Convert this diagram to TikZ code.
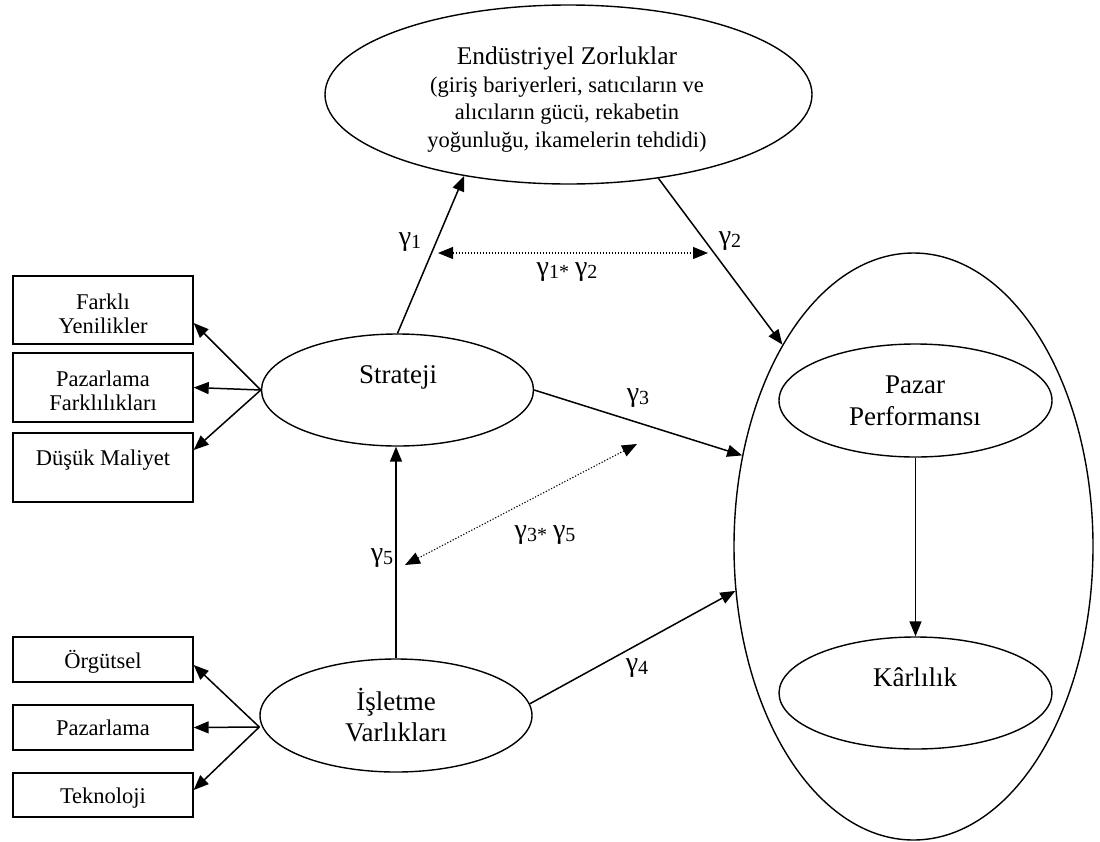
\documentclass[tikz,border=0pt]{standalone}
\usepackage{fontspec}
\setmainfont{Liberation Serif}
\usetikzlibrary{shapes.geometric,arrows.meta,calc}
\newcommand\boxfont{\fontsize{22.5}{24}\selectfont}
\newcommand\ellfont{\fontsize{27}{31}\selectfont}
\newcommand\gam[1]{{\fontsize{28}{28}\selectfont γ}\raisebox{-3.5pt}{\fontsize{20}{20}\selectfont #1}}
\begin{document}
\begin{tikzpicture}[x=1pt,y=-1pt,line width=1.5pt,
  ell/.style={draw,ellipse,inner sep=0pt,line width=1.4pt},
  boxnode/.style={draw,rectangle,inner sep=0pt,minimum width=180pt,align=center,font=\boxfont,line width=1.4pt},
  txt/.style={inner sep=0pt,align=center,anchor=base},
  lbl/.style={inner sep=0pt,align=center},
  arr/.style={-{Triangle[length=15pt,width=12pt]}},
  dotarr/.style={line width=1.1pt,dash pattern=on 1.2pt off 1.8pt,{Triangle[length=15pt,width=12pt]}-{Triangle[length=15pt,width=12pt]}}]
\useasboundingbox (0,0) rectangle (1100,841);
\fill[white] (0,0) rectangle (1100,841);

% ellipses
\node[ell,minimum width=487pt,minimum height=179pt] (E) at (568.5,94.5) {};
\node[ell,minimum width=272pt,minimum height=112pt] (S) at (397.5,390) {};
\node[ell,minimum width=272pt,minimum height=113pt] (I) at (396,715.5) {};
\node[ell,minimum width=359pt,minimum height=587pt] (B) at (913.5,546.5) {};
\node[ell,minimum width=273pt,minimum height=113pt] (P) at (915.5,400.5) {};
\node[ell,minimum width=273pt,minimum height=112pt] (K) at (915.5,693) {};

% ellipse texts (base = baseline of last line)
\node[txt,font=\fontsize{22.5}{27.5}\selectfont] (Et) at (567,147)
  {{\fontsize{25.5}{27}\selectfont Endüstriyel Zorluklar}\\(giriş bariyerleri, satıcıların ve\\alıcıların gücü, rekabetin\\yoğunluğu, ikamelerin tehdidi)};
\node[txt,font=\ellfont] (St) at (398,383) {Strateji};
\node[txt,font=\ellfont] (It) at (396,741) {İşletme\\Varlıkları};
\node[txt,font=\fontsize{27}{32}\selectfont] (Pt) at (915,425) {Pazar\\Performansı};
\node[txt,font=\ellfont] (Kt) at (915,686) {Kârlılık};

% boxes
\node[boxnode,text height=57pt,text depth=11pt] (b1) at (103,310) {Farklı\\Yenilikler};
\node[boxnode,text height=57pt,text depth=12pt] (b2) at (103,387.5) {Pazarlama\\Farklılıkları};
\node[boxnode,text height=32pt,text depth=37pt] (b3) at (103,467.5) {Düşük Maliyet};
\node[boxnode,text height=31pt,text depth=14pt] (c1) at (103,659.5) {Örgütsel};
\node[boxnode,text height=30pt,text depth=15pt] (c2) at (103,727.5) {Pazarlama};
\node[boxnode,text height=30pt,text depth=14pt] (c3) at (103,795) {Teknoloji};

% box arrows
\draw[arr] (S.west) -- ([yshift=-13pt]b1.east);
\draw[arr] (S.west) -- (b2.east);
\draw[arr] (S.west) -- ([yshift=17.5pt]b3.east);
\coordinate (io) at ([yshift=-11.5pt]I.west);
\draw[arr] (io) -- ([yshift=-5.5pt]c1.east);
\draw[arr] (io) -- (c2.east);
\draw[arr] (io) -- ([yshift=5pt]c3.east);

% structural paths
\draw[arr] (S.north) -- (E.218);
\draw[arr] (E.317) -- (B.123);
\draw[arr] (S.east) -- (B.152.7);
\draw[arr] (I.5) -- (B.194.5);
\draw[arr] (I.north) -- (I.north |- S.south);
\draw[arr] (P.south) -- (K.north);

% interaction (dotted) arrows
\coordinate (d1) at (438,253);
\coordinate (d2) at (708,253);
\coordinate (d3) at (405,565);
\coordinate (d4) at (637,444);
\draw[dotarr] (d1) -- (d2);
\draw[dotarr] (d3) -- (d4);

% labels
\node[lbl] (g1) at (410,242) {\gam{1}};
\node[lbl] (g2) at (730,241) {\gam{2}};
\node[lbl] (g12) at (567,272) {\gam{1*}\hspace{6pt}\gam{2}};
\node[lbl] (g3) at (638,398) {\gam{3}};
\node[lbl] (g35) at (545,535) {\gam{3*}\hspace{6pt}\gam{5}};
\node[lbl] (g5) at (382,558) {\gam{5}};
\node[lbl] (g4) at (637,668) {\gam{4}};
\end{tikzpicture}
\end{document}
